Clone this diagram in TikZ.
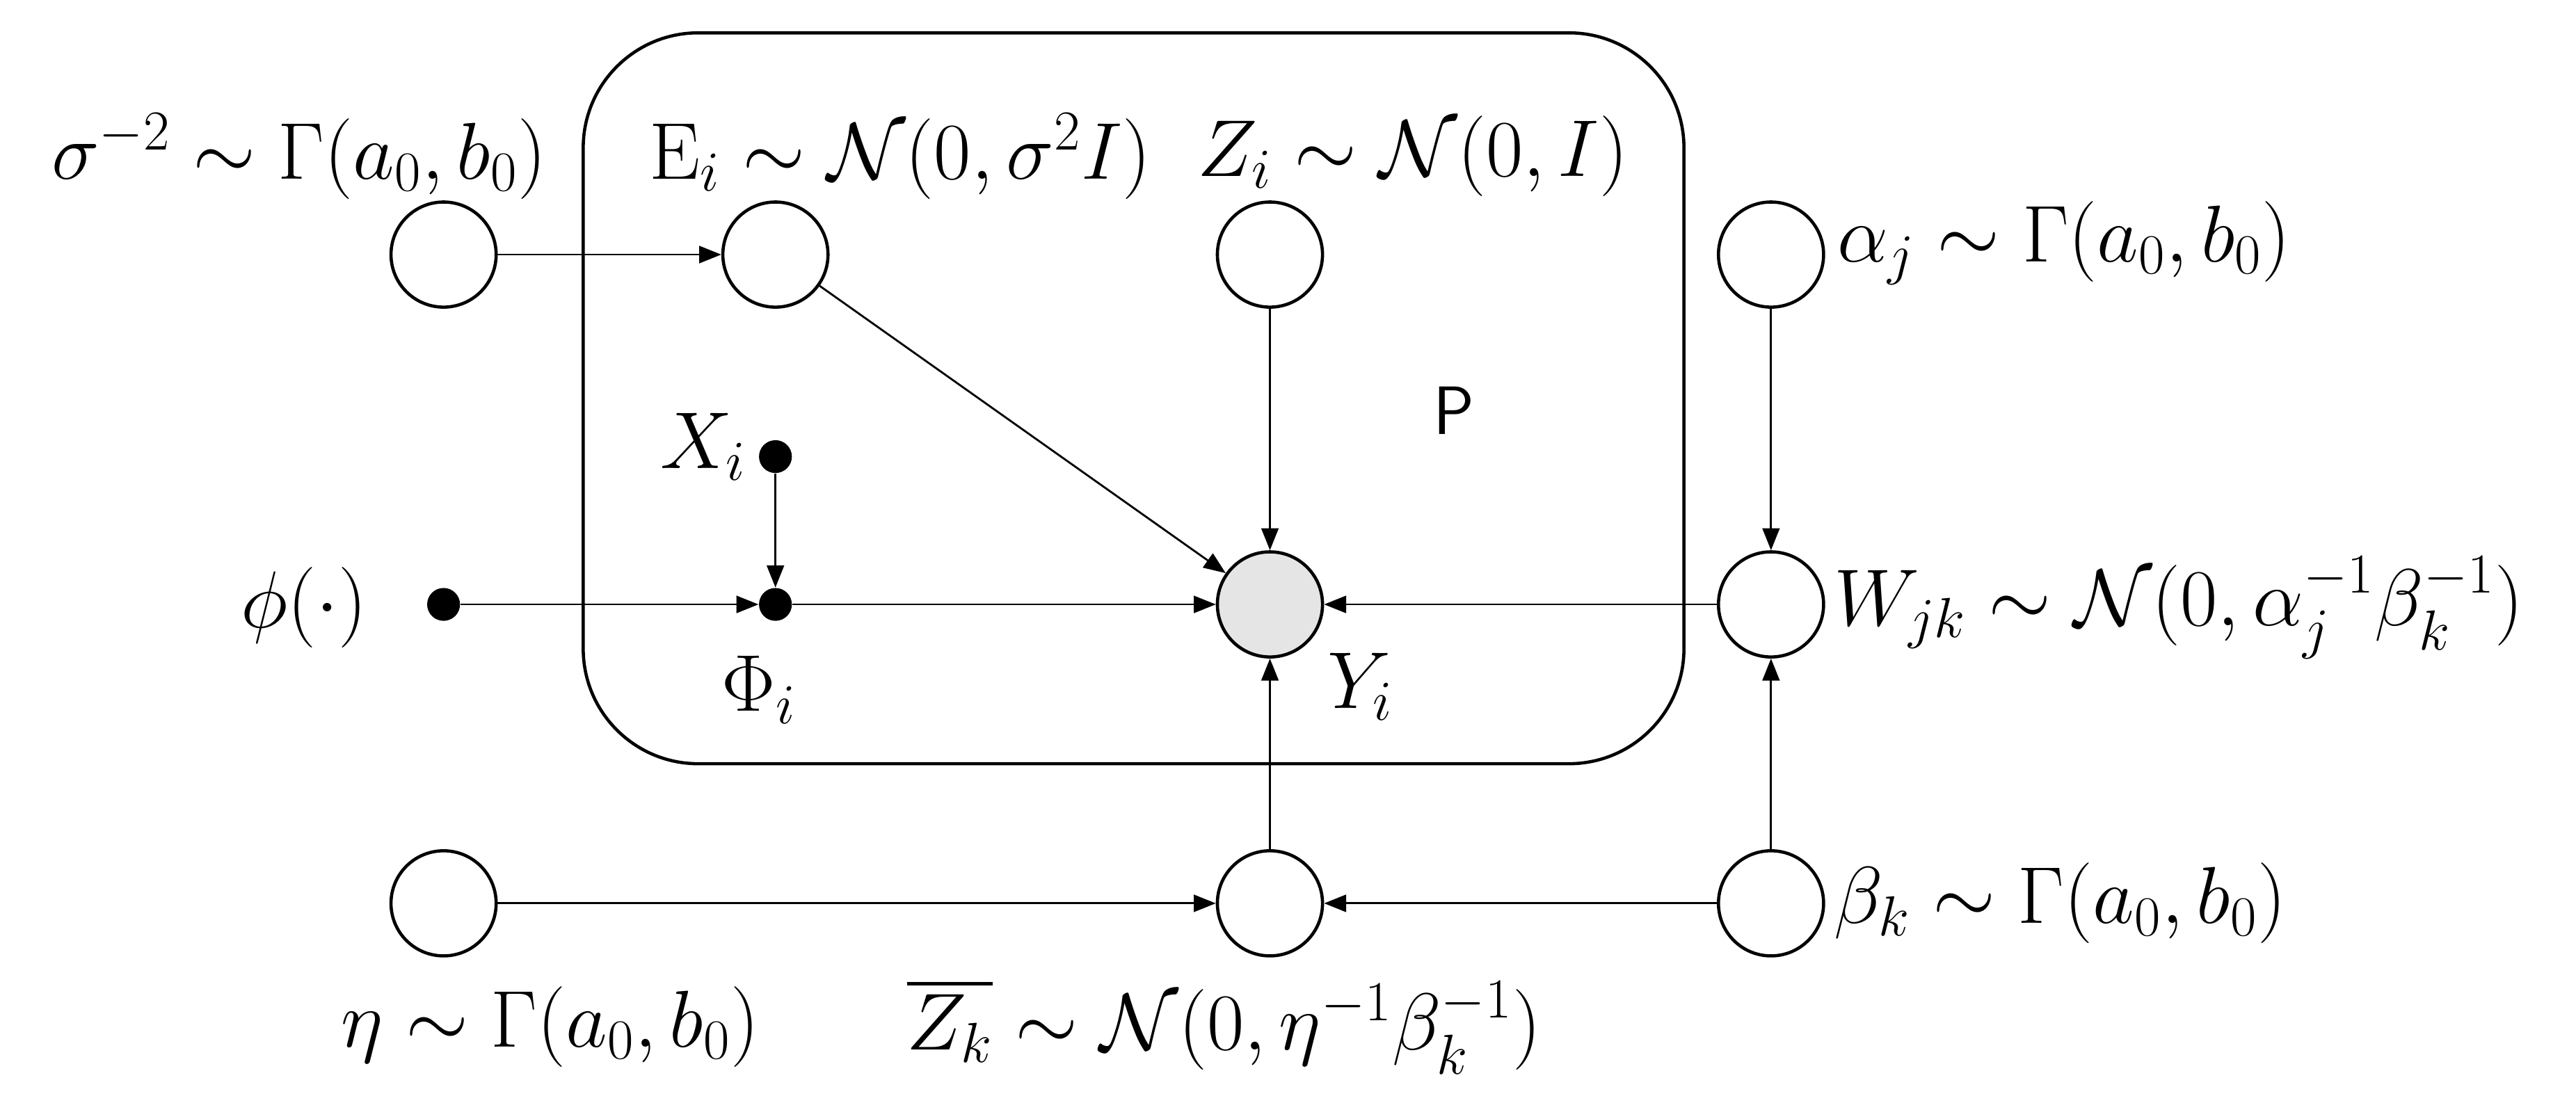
\documentclass[tikz,border=0pt]{standalone}
\usepackage{fix-cm}
\usepackage{amsmath,amssymb}
\usetikzlibrary{arrows.meta}
\begin{document}
\begin{tikzpicture}[x=0.023616cm,y=-0.023616cm,
  every node/.style={font=\fontsize{33}{40}\selectfont},
  var/.style={circle,draw,line width=1.3pt,minimum size=64*0.023616cm,inner sep=0pt},
  obs/.style={var,fill=gray!20},
  dot/.style={circle,fill=black,minimum size=20*0.023616cm,inner sep=0pt},
  arr/.style={-{Triangle[length=9pt,width=7pt]},line width=0.8pt},
  lbl/.style={inner sep=0pt}]
\useasboundingbox (0,0) rectangle (1568,681);
\draw[line width=1.3pt,rounded corners=70*0.023616cm] (355,20) rectangle (1025,465);
\node[var] (s) at (270,155) {};
\node[var] (E) at (472,155) {};
\node[var] (Z) at (773,155) {};
\node[var] (a) at (1078,155) {};
\node[dot] (X) at (472,278) {};
\node[dot] (ph) at (270,368) {};
\node[dot] (P) at (472,368) {};
\node[obs] (Y) at (773,368) {};
\node[var] (W) at (1078,368) {};
\node[var] (e) at (270,550) {};
\node[var] (Zb) at (773,550) {};
\node[var] (b) at (1078,550) {};
\draw[arr] (s)--(E); \draw[arr] (E)--(Y); \draw[arr] (Z)--(Y);
\draw[arr] (X)--(P); \draw[arr] (ph)--(P); \draw[arr] (P)--(Y);
\draw[arr] (W)--(Y); \draw[arr] (a)--(W); \draw[arr] (b)--(W);
\draw[arr] (b)--(Zb); \draw[arr] (e)--(Zb); \draw[arr] (Zb)--(Y);
\node[lbl] (ls) at (182,95) {$\sigma^{-2}\sim\Gamma(a_0,b_0)$};
\node[lbl] (lE) at (548,95) {$\mathrm{E}_i\sim\mathcal{N}(0,\sigma^2 I)$};
\node[lbl] (lZ) at (860,95) {$Z_i\sim\mathcal{N}(0,I)$};
\node[lbl,anchor=west] (la) at (1118,148) {$\alpha_j\sim\Gamma(a_0,b_0)$};
\node[lbl] (lX) at (428,272) {$X_i$};
\node[lbl] (lph) at (185,370) {$\phi(\cdot)$};
\node[lbl] (lP) at (462,420) {$\Phi_i$};
\node[lbl] (lY) at (828,418) {$Y_i$};
\node[lbl,font=\fontsize{28}{34}\sffamily] (lPl) at (885,250) {P};
\node[lbl,anchor=west] (lW) at (1116,370) {$W_{jk}\sim\mathcal{N}(0,\alpha_j^{-1}\beta_k^{-1})$};
\node[lbl,anchor=west] (lb) at (1116,550) {$\beta_k\sim\Gamma(a_0,b_0)$};
\node[lbl] (le) at (335,625) {$\eta\sim\Gamma(a_0,b_0)$};
\node[lbl] (lZb) at (745,625) {$\overline{Z_k}\sim\mathcal{N}(0,\eta^{-1}\beta_k^{-1})$};
\end{tikzpicture}
\end{document}
